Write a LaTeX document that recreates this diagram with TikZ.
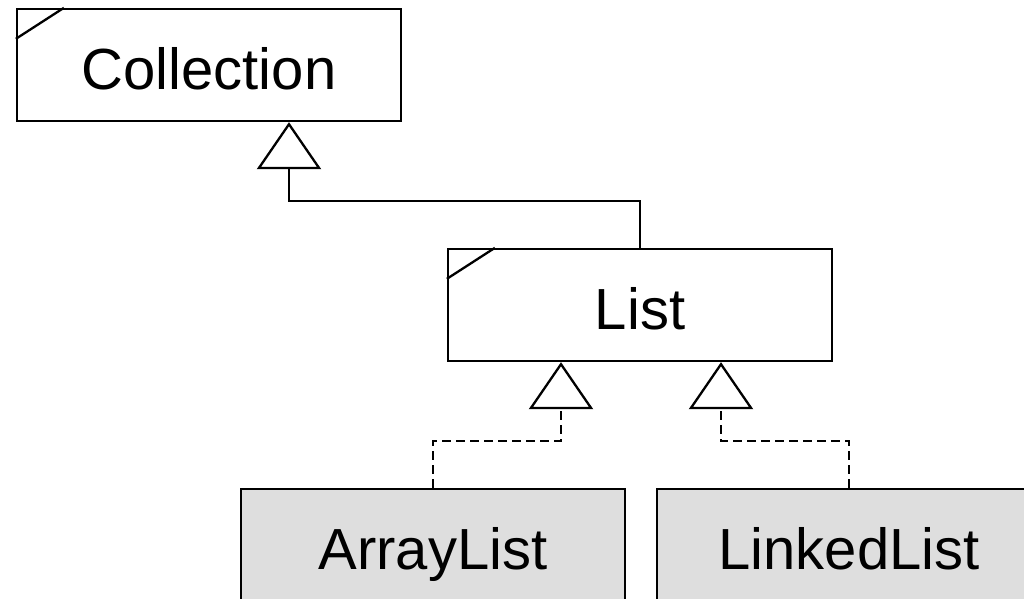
\documentclass[tikz,border=0pt]{standalone}
\usepackage{fontspec}
\setmainfont{Liberation Sans}
\usetikzlibrary{arrows.meta}

\tikzset{
  classbox/.style={draw, line width=2.3pt, minimum width=384pt, minimum height=112pt,
    inner sep=0pt, text height=48pt, text depth=0pt,
    font=\fontsize{58}{70}\selectfont},
  ifacebox/.style={classbox, fill=white},
  implbox/.style={classbox, fill=black!13},
  inherit/.style={line width=2.3pt, line join=miter,
    -{Triangle[open, length=47pt, width=64pt, line width=2.3pt]}},
  realize/.style={inherit, dash pattern=on 9pt off 5pt},
  corner/.style={line width=2.3pt}
}

\begin{document}
\begin{tikzpicture}[x=1pt, y=-1pt]
  \useasboundingbox (0,0) rectangle (1024,598);
  \clip (0,0) rectangle (1024,598);

  % interfaces
  \node[ifacebox] (coll) at (209,65) {Collection};
  \node[ifacebox] (list) at (640,305) {List};
  \draw[corner] ([yshift=-31pt]coll.north west) -- ([xshift=48pt]coll.north west);
  \draw[corner] ([yshift=-31pt]list.north west) -- ([xshift=48pt]list.north west);

  % implementations
  \node[implbox] (alist) at (433,545) {ArrayList};
  \node[implbox] (llist) at (849,545) {LinkedList};

  % bend points of the connectors
  \coordinate (cbend) at (289,201);
  \coordinate (abend) at (561,441);
  \coordinate (lbend) at (721,441);

  % List extends Collection
  \draw[inherit] (list.north) |- (cbend) -- ([xshift=80pt]coll.south);

  % ArrayList and LinkedList implement List
  \draw[realize] (alist.north) |- (abend) -- ([xshift=-79pt]list.south);
  \draw[realize] (llist.north) |- (lbend) -- ([xshift=81pt]list.south);
\end{tikzpicture}
\end{document}
